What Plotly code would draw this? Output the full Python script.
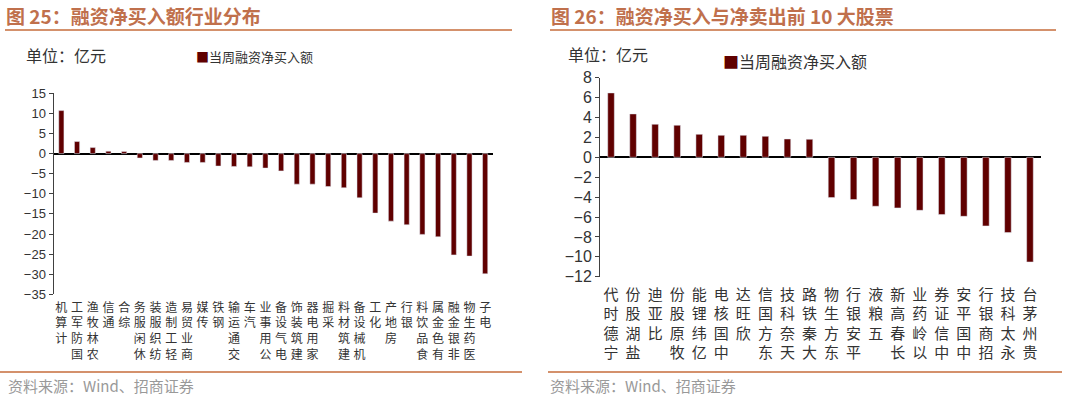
import plotly.graph_objects as go

# ---------------- data ----------------
industries = ["计算机", "国防军工", "农林牧渔", "通信", "综合", "休闲服务", "纺织服装",
              "轻工制造", "商业贸易", "传媒", "钢铁", "交通运输", "汽车", "公用事业",
              "电气设备", "建筑装饰", "家用电器", "采掘", "建筑材料", "机械设备", "化工",
              "房地产", "银行", "食品饮料", "有色金属", "非银金融", "医药生物", "电子"]
industry_values = [10.7, 3.0, 1.5, 0.6, 0.5, -1.1, -1.7, -1.7, -2.2, -2.2, -3.1, -3.2,
                   -3.3, -3.6, -4.3, -7.6, -7.6, -8.2, -8.5, -11.0, -14.8, -16.8, -17.7,
                   -20.1, -20.7, -25.2, -25.5, -29.9]

stocks = ["宁德时代", "盐湖股份", "比亚迪", "牧原股份", "亿纬锂能", "中国核电", "欣旺达",
          "东方国信", "天奈科技", "大秦铁路", "东方生物", "平安银行", "五粮液", "长春高新",
          "以岭药业", "中信证券", "中国平安", "招商银行", "永太科技", "贵州茅台"]
stock_values = [6.47, 4.36, 3.32, 3.22, 2.31, 2.21, 2.21, 2.11, 1.84, 1.81,
                -4.05, -4.25, -4.92, -5.09, -5.33, -5.76, -5.93, -6.90, -7.57, -10.52]

left_yticks = [15, 10, 5, 0, -5, -10, -15, -20, -25, -30, -35]
right_yticks = [8, 6, 4, 2, 0, -2, -4, -6, -8, -10, -12]

series_name = "当周融资净买入额"
left_title = "图 25：融资净买入额行业分布"
right_title = "图 26：融资净买入与净卖出前 10 大股票"
unit_text = "单位：亿元"
source_text = "资料来源：Wind、招商证券"

# ---------------- style ----------------
W, H = 1080, 399
BAR = "#600000"
TITLE_C = "#C0704C"
RULE_C = "#D4916C"
CJK = "Noto Sans CJK SC"
LAT = "Liberation Sans"


def px_x(v):
    return v / W


def px_y(v):
    return 1 - v / H


def vertical(label):
    return "<br>".join(reversed(label))


fig = go.Figure()
fig.add_trace(go.Bar(x=industries, y=industry_values, name=series_name,
                     marker_color=BAR, width=0.33, xaxis="x", yaxis="y",
                     showlegend=False))
fig.add_trace(go.Bar(x=stocks, y=stock_values, name=series_name,
                     marker_color=BAR, width=0.3, xaxis="x2", yaxis="y2",
                     showlegend=False))

common_y = dict(showgrid=False, showline=True, linecolor="#404040", linewidth=1,
                ticks="outside", ticklen=4, tickcolor="#404040",
                zeroline=True, zerolinecolor="#000000", zerolinewidth=2,
                automargin=False)
common_x = dict(type="category", showgrid=False, showline=False, zeroline=False,
                ticks="outside", tickcolor="rgba(0,0,0,0)", tickangle=0,
                automargin=False)

fig.update_layout(
    width=W, height=H, autosize=False, margin=dict(l=0, r=0, t=0, b=0, autoexpand=False),
    paper_bgcolor="white", plot_bgcolor="white", bargap=0,
    xaxis=dict(domain=[px_x(53.5), px_x(493)], anchor="y",
               tickvals=industries, ticktext=[vertical(s) for s in industries],
               tickfont=dict(family=CJK, size=12, color="#333333"), ticklen=2,
               **common_x),
    yaxis=dict(domain=[px_y(294.3), px_y(93.3)], anchor="x", range=[-35, 15],
               tickvals=left_yticks, tickfont=dict(family=LAT, size=13, color="#333333"),
               **common_y),
    xaxis2=dict(domain=[px_x(600), px_x(1041)], anchor="y2",
                tickvals=stocks, ticktext=[vertical(s) for s in stocks],
                tickfont=dict(family=CJK, size=15, color="#333333"), ticklen=4,
                **common_x),
    yaxis2=dict(domain=[px_y(276.7), px_y(77.7)], anchor="x2", range=[-12, 8],
                tickvals=right_yticks, tickfont=dict(family=LAT, size=16, color="#333333"),
                **common_y),
)

shapes = []
for x0, x1 in [(5, 512), (550, 1056)]:
    shapes.append(dict(type="line", xref="paper", yref="paper",
                       x0=px_x(x0), x1=px_x(x1), y0=px_y(30), y1=px_y(30),
                       line=dict(color=RULE_C, width=2)))
for x0, x1 in [(0, 522), (548, 1062)]:
    shapes.append(dict(type="line", xref="paper", yref="paper",
                       x0=px_x(x0), x1=px_x(x1), y0=px_y(372), y1=px_y(372),
                       line=dict(color=RULE_C, width=2)))
fig.update_layout(shapes=shapes)


def ann(text, x, y, size, color, family=CJK, xanchor="left"):
    return dict(text=text, x=px_x(x), y=px_y(y), xref="paper", yref="paper",
                xanchor=xanchor, yanchor="middle", showarrow=False,
                font=dict(family=family, size=size, color=color))


annotations = [
    ann("<b>" + left_title + "</b>", 4, 15, 19, TITLE_C),
    ann("<b>" + right_title + "</b>", 549, 15, 19, TITLE_C),
    ann(unit_text, 24, 55, 16, "#333333"),
    ann(unit_text, 566, 54, 16, "#333333"),
    ann("<span style='color:%s'>■</span>%s" % (BAR, series_name), 194, 57, 13, "#333333"),
    ann("<span style='color:%s'>■</span>%s" % (BAR, series_name), 721, 61, 16, "#333333"),
    ann(source_text, 6, 385, 15, "#999999"),
    ann(source_text, 548, 385, 15, "#999999"),
]
fig.update_layout(annotations=annotations)

# place the graph at the top-left corner of the page (no default body margin)
page_fix = (
    "document.documentElement.style.margin='0';"
    "document.body.style.margin='0';"
    "document.body.style.overflow='hidden';"
    "var gd=document.getElementById('{plot_id}');"
    "gd.style.position='fixed';gd.style.left='0px';gd.style.top='0px';"
)

fig.write_html("out.html", post_script=page_fix,
               config={"displayModeBar": False, "staticPlot": True})
